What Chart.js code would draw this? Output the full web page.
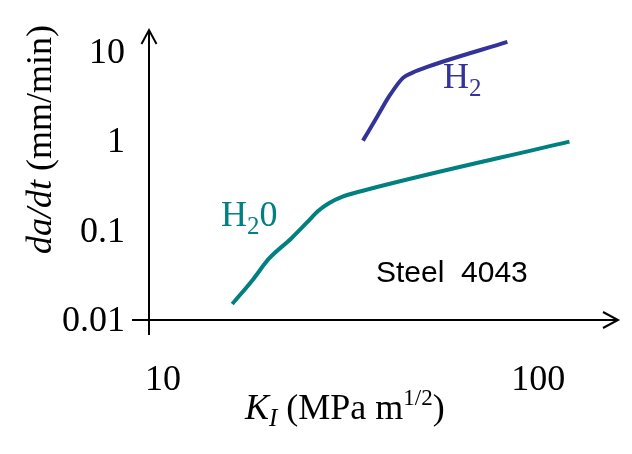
<!DOCTYPE html>
<html>
<head>
<meta charset="utf-8">
<script src="https://cdn.jsdelivr.net/npm/chart.js@4.4.1/dist/chart.umd.min.js"></script>
<style>
  html, body { margin: 0; padding: 0; background: #fff; }
  canvas { display: block; }
</style>
</head>
<body>
<canvas id="chart" width="632" height="454"></canvas>
<script>
// values (K_I in MPa m^1/2, da/dt in mm/min)
const waterK    = [15.3, 17.4, 19.1, 22.0, 24.2, 25.9, 27.6, 30.2, 33.5, 121];
const waterRate = [0.0151, 0.0286, 0.0478, 0.082, 0.123, 0.165, 0.200, 0.240, 0.273, 0.985];
const h2K       = [34.1, 37.2, 40.3, 43.6, 46.1, 50.6, 82.7];
const h2Rate    = [1.01, 1.87, 3.29, 5.08, 5.78, 6.74, 12.8];
const xTicks = [10, 100];
const yTicks = [0.01, 0.1, 1, 10];

const teal = '#008080';
const blue = '#333399';
const serif = '"Liberation Serif", "Times New Roman", serif';

function pts(xs, ys) {
  return xs.map((x, i) => ({x: x, y: ys[i]}));
}

// text pieces: [text, font, dy]
function drawPieces(ctx, x, y, pieces, color) {
  ctx.fillStyle = color;
  ctx.textBaseline = 'alphabetic';
  ctx.textAlign = 'left';
  pieces.forEach(p => {
    ctx.font = p[1];
    ctx.fillText(p[0], x, y + (p[2] || 0));
    x += ctx.measureText(p[0]).width;
  });
}

const extras = {
  id: 'extras',
  afterDraw(chart) {
    const ctx = chart.ctx;
    const a = chart.chartArea;
    ctx.save();
    ctx.strokeStyle = '#000';
    ctx.lineWidth = 2;
    // x axis with arrow
    ctx.beginPath();
    ctx.moveTo(132, a.bottom);
    ctx.lineTo(a.right, a.bottom);
    ctx.moveTo(a.right - 15, a.bottom - 8);
    ctx.lineTo(a.right, a.bottom);
    ctx.lineTo(a.right - 15, a.bottom + 8);
    // y axis with arrow
    ctx.moveTo(a.left, 335);
    ctx.lineTo(a.left, a.top);
    ctx.moveTo(a.left - 7.5, a.top + 14);
    ctx.lineTo(a.left, a.top);
    ctx.lineTo(a.left + 7.5, a.top + 14);
    ctx.stroke();

    // x title
    drawPieces(ctx, 245, 419, [
      ['K', 'italic 36px ' + serif],
      ['I', 'italic 25px ' + serif, 7],
      [' (MPa m', '36px ' + serif],
      ['1/2', '23px ' + serif, -14],
      [')', '36px ' + serif]
    ], '#000');

    // y title (rotated)
    ctx.save();
    ctx.translate(51, 254);
    ctx.rotate(-Math.PI / 2);
    drawPieces(ctx, 0, 0, [
      ['da/dt', 'italic 36px ' + serif],
      [' (mm/min)', '36px ' + serif]
    ], '#000');
    ctx.restore();

    // curve labels
    drawPieces(ctx, 443, 88, [
      ['H', '36px ' + serif],
      ['2', '25px ' + serif, 8]
    ], blue);
    drawPieces(ctx, 221, 226, [
      ['H', '36px ' + serif],
      ['2', '25px ' + serif, 8],
      ['0', '36px ' + serif]
    ], teal);

    ctx.fillStyle = '#000';
    ctx.font = '30px "Liberation Sans", Arial, sans-serif';
    ctx.fillText('Steel  4043', 376, 282);
    ctx.restore();
  }
};

new Chart(document.getElementById('chart'), {
  type: 'line',
  data: {
    datasets: [{
      label: 'H2O',
      data: pts(waterK, waterRate),
      borderColor: teal,
      borderWidth: 4,
      pointRadius: 0,
      cubicInterpolationMode: 'monotone',
      fill: false
    }, {
      label: 'H2',
      data: pts(h2K, h2Rate),
      borderColor: blue,
      borderWidth: 4,
      pointRadius: 0,
      cubicInterpolationMode: 'monotone',
      fill: false
    }]
  },
  options: {
    responsive: false,
    animation: false,
    devicePixelRatio: 1,
    layout: { padding: { top: 30, right: 14, left: 0, bottom: 0 } },
    plugins: {
      legend: { display: false },
      tooltip: { enabled: false }
    },
    scales: {
      x: {
        type: 'logarithmic',
        min: 9.18,
        max: 163,
        grid: { display: false, drawTicks: false },
        border: { display: false },
        afterBuildTicks: s => { s.ticks = xTicks.map(v => ({value: v})); },
        afterFit: s => { s.height = 134; s.paddingLeft = 0; s.paddingRight = 0; },
        ticks: {
          autoSkip: false,
          maxRotation: 0,
          padding: 39,
          color: '#000',
          font: { family: serif, size: 36 },
          callback: v => String(v)
        }
      },
      y: {
        type: 'logarithmic',
        min: 0.01,
        max: 17.4,
        grid: { display: false, drawTicks: false },
        border: { display: false },
        afterBuildTicks: s => { s.ticks = yTicks.map(v => ({value: v})); },
        afterFit: s => { s.width = 149; s.paddingTop = 0; s.paddingBottom = 0; },
        ticks: {
          autoSkip: false,
          padding: 24,
          labelOffset: 2,
          color: '#000',
          font: { family: serif, size: 36 },
          callback: v => String(v)
        }
      }
    }
  },
  plugins: [extras]
});
</script>
</body>
</html>
